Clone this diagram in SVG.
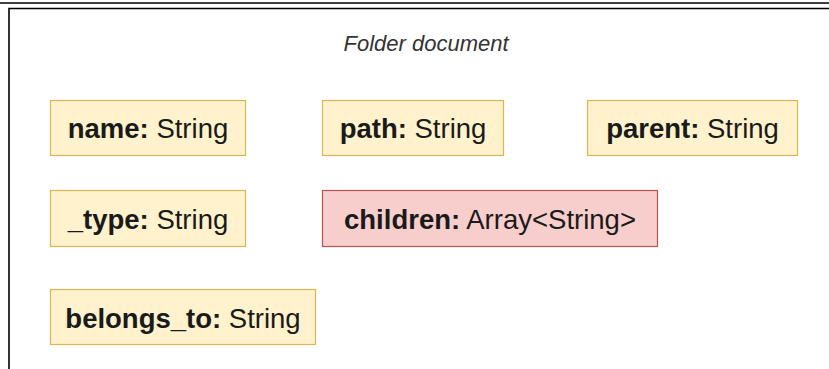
<svg xmlns="http://www.w3.org/2000/svg" width="829" height="369" viewBox="0 0 829 369">
  <style>
    .frame { stroke: #000; stroke-width: 1.6; fill: none; }
    .field rect { fill: #fff2cc; stroke: #d6b656; stroke-width: 1.2; }
    .field.alert rect { fill: #f8cecc; stroke: #b85450; }
    .field text { font-family: "Liberation Sans", Arial, sans-serif; font-size: 27.5px; fill: #1a1a1a; text-anchor: middle; }
    .key { font-weight: bold; }
    .title { font-family: "Liberation Sans", Arial, sans-serif; font-size: 22px; font-style: italic; fill: #333; text-anchor: middle; }
  </style>
  <rect width="829" height="369" fill="#fff"/>
  <!-- page frame -->
  <g id="frame">
    <line class="frame" x1="0" y1="3" x2="829" y2="3" stroke-width="2"/>
    <polyline class="frame" points="9,369 9,8.5 829,8.5"/>
  </g>
  <text class="title" x="426" y="51">Folder document</text>
  <g id="name" class="field">
    <rect x="50.5" y="100.5" width="195" height="55"/>
    <text x="148" y="138"><tspan class="key">name:</tspan> String</text>
  </g>
  <g id="path" class="field">
    <rect x="322.5" y="100.5" width="181" height="55"/>
    <text x="413" y="138"><tspan class="key">path:</tspan> String</text>
  </g>
  <g id="parent" class="field">
    <rect x="587.5" y="100.5" width="210" height="55"/>
    <text x="692.5" y="138"><tspan class="key">parent:</tspan> String</text>
  </g>
  <g id="type" class="field">
    <rect x="50.5" y="190.5" width="195" height="56"/>
    <text x="148" y="228.5"><tspan class="key">_type:</tspan> String</text>
  </g>
  <g id="children" class="field alert">
    <rect x="322.5" y="190.5" width="335" height="56"/>
    <text x="490" y="228.5"><tspan class="key">children:</tspan> Array&lt;String&gt;</text>
  </g>
  <g id="belongs_to" class="field">
    <rect x="50.5" y="289.5" width="265" height="55"/>
    <text x="183" y="327.5"><tspan class="key">belongs_to:</tspan> String</text>
  </g>
  <g id="connectors"/>
</svg>
